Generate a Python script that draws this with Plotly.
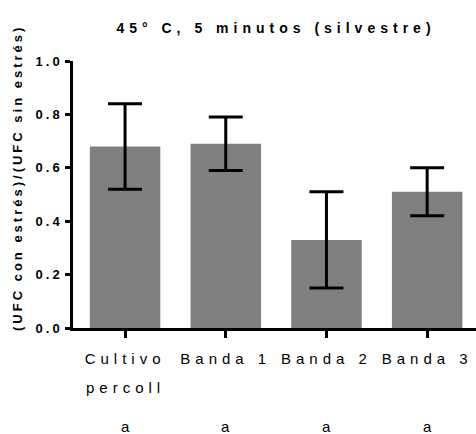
import plotly.graph_objects as go

categories = ["Cultivo\npercoll", "Banda 1", "Banda 2", "Banda 3"]
ratio_mean = [0.68, 0.69, 0.33, 0.51]
ratio_err = [0.16, 0.10, 0.18, 0.09]
group_letters = ["a", "a", "a", "a"]
y_ticks = [0.0, 0.2, 0.4, 0.6, 0.8, 1.0]

FONT = "Liberation Sans, Arial, sans-serif"
PLOT_TOP, PLOT_BOTTOM = 61, 328          # pixel rows of y = 1.0 and y = 0.0
PX_PER_UNIT = PLOT_BOTTOM - PLOT_TOP


def spaced(text, px):
    return f'<span style="letter-spacing:{px}px">{text}</span>'


def paper_y(pixel_row):
    return (PLOT_BOTTOM - pixel_row) / PX_PER_UNIT


x_pos = list(range(len(categories)))
label_lines = [c.split("\n") for c in categories]

fig = go.Figure(
    go.Bar(
        x=x_pos,
        y=ratio_mean,
        width=0.7,
        marker=dict(color="#808080", line=dict(width=0)),
        error_y=dict(
            type="data",
            array=ratio_err,
            visible=True,
            color="black",
            thickness=3,
            width=17,
        ),
    )
)

# continuation lines of the category labels (wider line gap than <br>)
for xi, lines in zip(x_pos, label_lines):
    for k, extra in enumerate(lines[1:], start=1):
        fig.add_annotation(
            x=xi, y=paper_y(357 + 30 * k), xref="x", yref="paper",
            xanchor="center", yanchor="middle", text=spaced(extra, 5),
            showarrow=False,
            font=dict(family=FONT, size=15, color="black"),
        )

# significance letters under each category
for xi, letter in zip(x_pos, group_letters):
    fig.add_annotation(
        x=xi, y=paper_y(426), xref="x", yref="paper",
        xanchor="center", yanchor="middle",
        text=letter, showarrow=False,
        font=dict(family=FONT, size=15, color="black"),
    )

fig.add_annotation(
    x=(17 - 73) / 403, y=paper_y(178), xref="paper", yref="paper",
    xanchor="center", yanchor="middle",
    text=spaced("<b>(UFC con estrés)/(UFC sin estrés)</b>", 3.0),
    textangle=-90, showarrow=False,
    font=dict(family=FONT, size=13, color="black"),
)

fig.update_layout(
    width=476,
    height=434,
    margin=dict(l=73, r=0, t=PLOT_TOP, b=434 - PLOT_BOTTOM),
    paper_bgcolor="white",
    plot_bgcolor="white",
    showlegend=False,
    title=dict(
        text=spaced("<b>45° C, 5 minutos (silvestre)</b>", 5),
        x=276 / 476, xanchor="center",
        y=1 - 28 / 434, yanchor="middle",
        font=dict(family=FONT, size=14, color="black"),
    ),
    xaxis=dict(
        range=[-0.517, 3.485],
        tickmode="array",
        tickvals=x_pos,
        ticktext=[spaced(lines[0], 5) for lines in label_lines],
        ticks="outside", ticklen=7, tickwidth=2.5, tickcolor="black",
        ticklabelstandoff=8,
        showline=True, linecolor="black", linewidth=2.5,
        showgrid=False, zeroline=False,
        tickfont=dict(family=FONT, size=15, color="black"),
    ),
    yaxis=dict(
        range=[0, 1.0],
        tickmode="array",
        tickvals=y_ticks,
        ticktext=[spaced(f"<b>{v:.1f}</b>", 3) for v in y_ticks],
        ticks="outside", ticklen=5, tickwidth=2.5, tickcolor="black",
        showline=True, linecolor="black", linewidth=2.5,
        showgrid=False, zeroline=False,
        tickfont=dict(family=FONT, size=13, color="black"),
    ),
)

fig.write_html("out.html")
